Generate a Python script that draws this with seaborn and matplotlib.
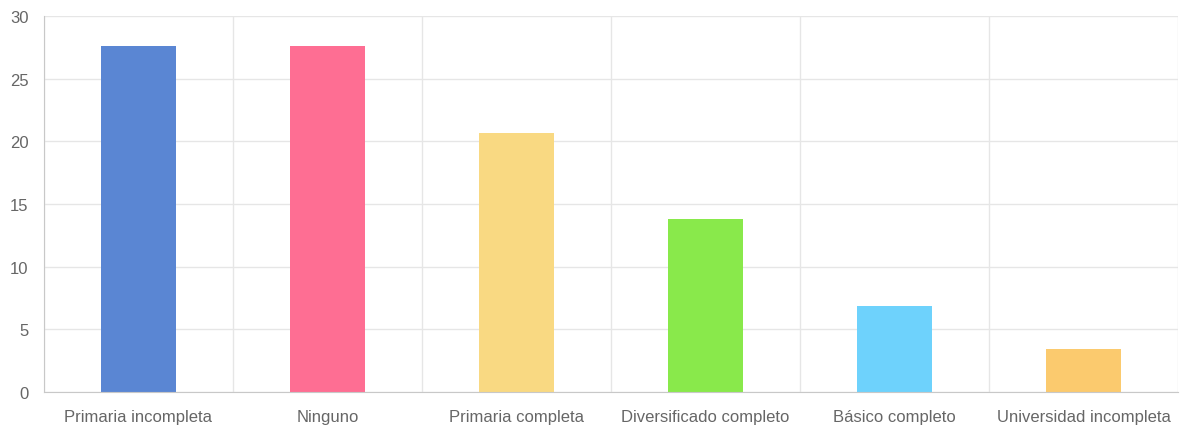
import numpy as np
import pandas as pd
import matplotlib
matplotlib.use("Agg")
import matplotlib.pyplot as plt
import seaborn as sns

categories = ["Primaria incompleta", "Ninguno", "Primaria completa",
              "Diversificado completo", "Básico completo", "Universidad incompleta"]
values = [27.59, 27.59, 20.69, 13.79, 6.90, 3.45]
colors = ["#5a86d3", "#fe6e93", "#f9d982", "#89e94b", "#6ed2fc", "#fbca6e"]
y_ticks = [0, 5, 10, 15, 20, 25, 30]

df = pd.DataFrame({"cat": categories, "val": values})

sns.set_style("white")
plt.rcParams["font.family"] = ["Liberation Sans", "DejaVu Sans"]

fig = plt.figure(figsize=(11.8, 4.27), dpi=100)
ax = fig.add_axes([44 / 1180, 1 - 393 / 427, (1178 - 44) / 1180, (393 - 17) / 427])

sns.barplot(data=df, x="cat", y="val", hue="cat", palette=colors, width=0.4,
            legend=False, ax=ax, saturation=1, linewidth=0)

ax.set_xlim(-0.5, len(categories) - 0.5)
ax.set_ylim(0, 30)
ax.set_yticks(y_ticks)
ax.set_xlabel("")
ax.set_ylabel("")

grid_c = "#e6e6e6"
ax.set_xticks(np.arange(-0.5, len(categories), 1.0), minor=True)
ax.grid(True, which="minor", axis="x", color=grid_c, linewidth=1)
ax.grid(True, which="major", axis="y", color=grid_c, linewidth=1)
ax.set_axisbelow(True)

ax.tick_params(axis="x", which="major", length=0, pad=12, labelsize=12, labelcolor="#666666")
ax.tick_params(axis="x", which="minor", length=8, color=grid_c, direction="out")
ax.tick_params(axis="y", length=8, color=grid_c, pad=3, labelsize=12, labelcolor="#666666")

for s in ["top", "right"]:
    ax.spines[s].set_visible(False)
ax.spines["left"].set_color("#c8c8c8")
ax.spines["bottom"].set_color("#c8c8c8")

fig.savefig("out.png", dpi=100)
